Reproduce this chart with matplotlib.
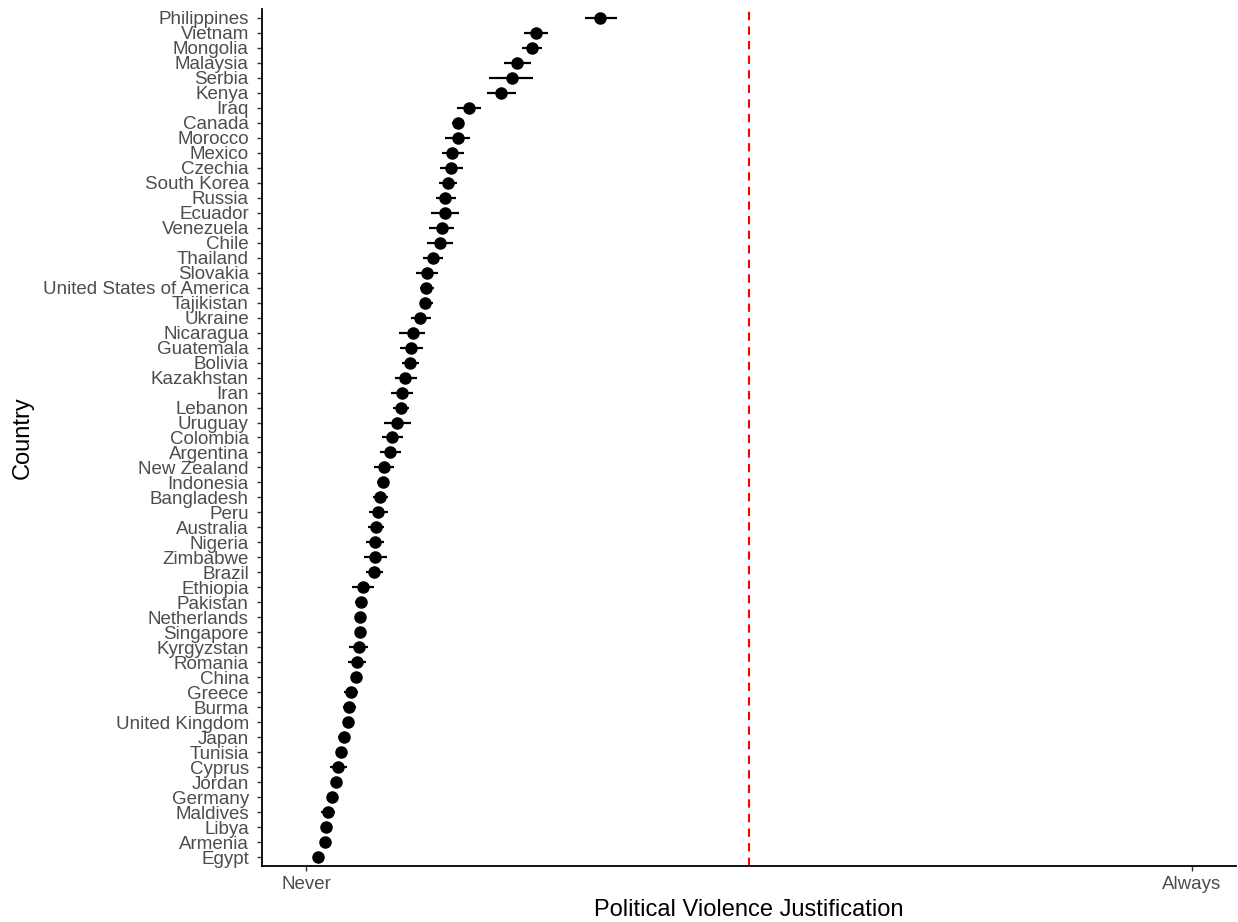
import matplotlib.pyplot as plt
import numpy as np

# countries listed top to bottom, as in the chart
countries = [
    "Philippines", "Vietnam", "Mongolia", "Malaysia", "Serbia", "Kenya", "Iraq",
    "Canada", "Morocco", "Mexico", "Czechia", "South Korea", "Russia", "Ecuador",
    "Venezuela", "Chile", "Thailand", "Slovakia", "United States of America",
    "Tajikistan", "Ukraine", "Nicaragua", "Guatemala", "Bolivia", "Kazakhstan",
    "Iran", "Lebanon", "Uruguay", "Colombia", "Argentina", "New Zealand",
    "Indonesia", "Bangladesh", "Peru", "Australia", "Nigeria", "Zimbabwe",
    "Brazil", "Ethiopia", "Pakistan", "Netherlands", "Singapore", "Kyrgyzstan",
    "Romania", "China", "Greece", "Burma", "United Kingdom", "Japan", "Tunisia",
    "Cyprus", "Jordan", "Germany", "Maldives", "Libya", "Armenia", "Egypt",
]

# mean justification on a 0 (Never) to 1 (Always) scale
means = [
    0.332, 0.259, 0.255, 0.238, 0.232, 0.220, 0.184,
    0.171, 0.171, 0.165, 0.164, 0.160, 0.157, 0.157,
    0.153, 0.151, 0.143, 0.136, 0.135,
    0.134, 0.129, 0.120, 0.118, 0.117, 0.112,
    0.108, 0.107, 0.103, 0.097, 0.095, 0.088,
    0.087, 0.083, 0.081, 0.079, 0.078, 0.078,
    0.077, 0.064, 0.062, 0.061, 0.061, 0.059,
    0.057, 0.056, 0.050, 0.048, 0.047, 0.043, 0.039,
    0.036, 0.034, 0.029, 0.024, 0.022, 0.021, 0.013,
]

lower = [
    0.315, 0.246, 0.244, 0.223, 0.206, 0.204, 0.170,
    0.165, 0.157, 0.153, 0.151, 0.150, 0.146, 0.141,
    0.139, 0.136, 0.132, 0.124, 0.129,
    0.128, 0.118, 0.105, 0.106, 0.108, 0.100,
    0.096, 0.098, 0.088, 0.086, 0.083, 0.077,
    0.080, 0.075, 0.071, 0.070, 0.068, 0.065,
    0.068, 0.052, 0.055, 0.056, 0.056, 0.048,
    0.047, 0.051, 0.043, 0.041, 0.042, 0.036, 0.034,
    0.027, 0.029, 0.025, 0.017, 0.018, 0.017, 0.009,
]

upper = [
    0.351, 0.273, 0.266, 0.254, 0.256, 0.237, 0.197,
    0.178, 0.185, 0.178, 0.177, 0.170, 0.169, 0.173,
    0.167, 0.166, 0.154, 0.149, 0.144,
    0.143, 0.141, 0.134, 0.132, 0.127, 0.125,
    0.120, 0.116, 0.118, 0.109, 0.107, 0.099,
    0.093, 0.092, 0.092, 0.088, 0.088, 0.091,
    0.087, 0.077, 0.069, 0.066, 0.066, 0.070,
    0.067, 0.061, 0.058, 0.056, 0.052, 0.049, 0.044,
    0.046, 0.039, 0.033, 0.032, 0.026, 0.025, 0.017,
]

x_ticks = [0, 1]
x_ticklabels = ["Never", "Always"]
midpoint = 0.5

plt.rcParams["font.family"] = ["Liberation Sans", "DejaVu Sans"]

fig = plt.figure(figsize=(12.38, 9.22), dpi=100)
ax = fig.add_axes([262 / 1238, 56 / 922, 974 / 1238, 857 / 922])

n = len(countries)
y = np.arange(n, 0, -1)
means_a = np.array(means)
err = [means_a - np.array(lower), np.array(upper) - means_a]

ax.axvline(midpoint, color="red", linestyle=(0, (4, 3)), linewidth=1.5, zorder=1)
ax.errorbar(means_a, y, xerr=err, fmt="o", color="black", markersize=8.0,
            elinewidth=1.6, capsize=0, zorder=3)

ax.set_xlim(-0.05, 1.05)
ax.set_ylim(0.4, n + 0.6)
ax.set_yticks(y)
ax.set_yticklabels(countries)
ax.set_xticks(x_ticks)
ax.set_xticklabels(x_ticklabels)

ax.tick_params(axis="both", colors="#333333", labelcolor="#4D4D4D",
               labelsize=13.5, length=3.5, width=1.0)
ax.tick_params(axis="y", pad=6)
ax.tick_params(axis="x", pad=4)

for side in ("top", "right"):
    ax.spines[side].set_visible(False)
for side in ("left", "bottom"):
    ax.spines[side].set_linewidth(1.3)
    ax.spines[side].set_color("black")

ax.set_xlabel("Political Violence Justification", fontsize=17)
ax.set_ylabel("Country", fontsize=17)
ax.xaxis.set_label_coords(0.5, -0.038)
ax.yaxis.set_label_coords(-0.234, 0.5)

fig.savefig("out.png", dpi=100, facecolor="white")
